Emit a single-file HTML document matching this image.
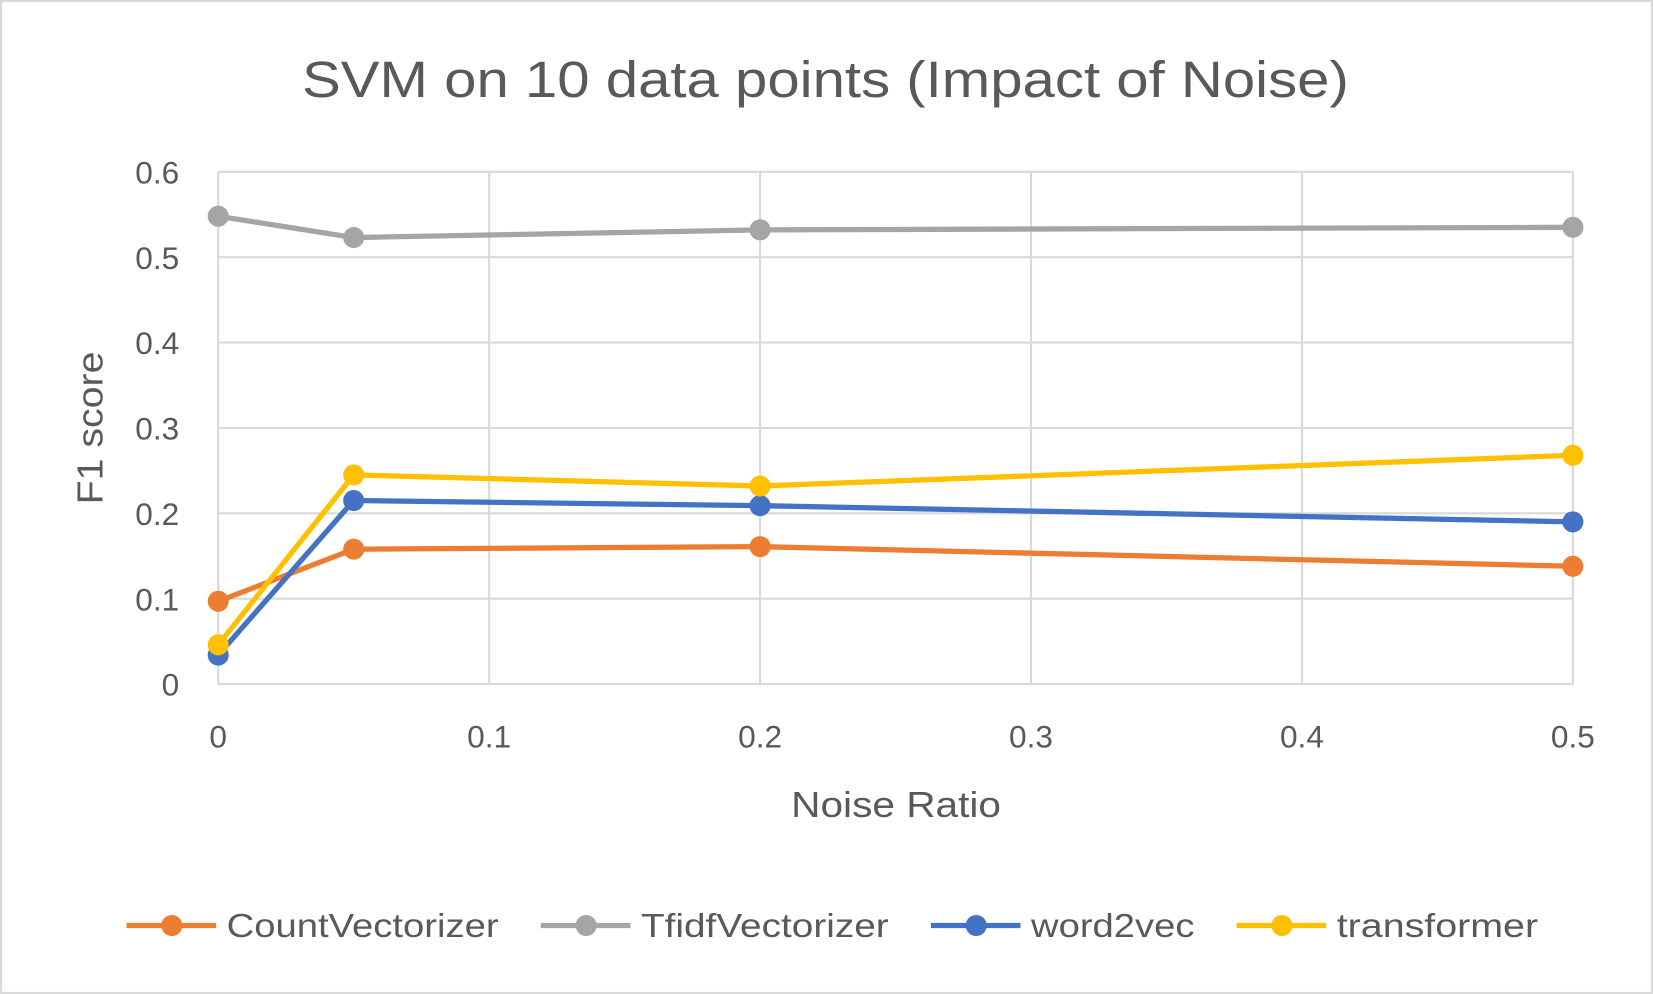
<!DOCTYPE html>
<html><head><meta charset="utf-8"><style>
html,body{margin:0;padding:0;background:#fff;}
svg{display:block;font-family:"Liberation Sans",Calibri,sans-serif;}
</style></head><body>
<svg width="1653" height="994" viewBox="0 0 1568 943" preserveAspectRatio="none">
<rect x="1" y="1" width="1566" height="941" fill="#fff" stroke="#d9d9d9" stroke-width="2"/>
<text x="783" y="92" text-anchor="middle" font-size="48" fill="#595959" textLength="993" lengthAdjust="spacingAndGlyphs">SVM on 10 data points (Impact of Noise)</text>
<g id="grid"></g>
<g id="axes"></g>
<g id="series"></g>
<text x="850" y="775" text-anchor="middle" font-size="34" fill="#595959" textLength="199" lengthAdjust="spacingAndGlyphs">Noise Ratio</text>
<text transform="translate(97,406) rotate(-90)" text-anchor="middle" font-size="34" fill="#595959" textLength="145" lengthAdjust="spacingAndGlyphs">F1 score</text>
<g id="legend"></g>
</svg>
<script>
const xValues=[0,0.05,0.2,0.5];
const seriesNames=["CountVectorizer","TfidfVectorizer","word2vec","transformer"];
const countVals=[0.097,0.158,0.161,0.138];
const tfidfVals=[0.548,0.523,0.532,0.535];
const w2vVals=[0.034,0.215,0.209,0.190];
const transVals=[0.046,0.245,0.232,0.268];
const yTicks=[0,0.1,0.2,0.3,0.4,0.5,0.6];
const yTickLabels=["0","0.1","0.2","0.3","0.4","0.5","0.6"];
const xTicks=[0,0.1,0.2,0.3,0.4,0.5];
const xTickLabels=["0","0.1","0.2","0.3","0.4","0.5"];
const colors=["#ed7d31","#a5a5a5","#4472c4","#ffc000"];
const NS="http://www.w3.org/2000/svg";
const X=v=>207+(v/0.5)*(1492-207);
const Y=v=>649-(v/0.6)*(649-163);
function mk(tag,attrs,parent){const e=document.createElementNS(NS,tag);for(const k in attrs)e.setAttribute(k,attrs[k]);parent.appendChild(e);return e;}
const grid=document.getElementById('grid'),axes=document.getElementById('axes'),ser=document.getElementById('series'),leg=document.getElementById('legend');
yTicks.forEach((t,i)=>{
  const l=mk('line',{x1:X(0),x2:X(0.5),y1:Y(t),y2:Y(t),stroke:'#d9d9d9','stroke-width':2},grid);
  
  
  const tx=mk('text',{x:170,y:Y(t)+11,'text-anchor':'end','font-size':30,fill:'#595959'},axes);
  tx.textContent=yTickLabels[i];
  
  
});
xTicks.forEach((t,i)=>{
  const l=mk('line',{x1:X(t),x2:X(t),y1:Y(0),y2:Y(0.6),stroke:'#d9d9d9','stroke-width':2},grid);
  
  
  const tx=mk('text',{x:X(t),y:709,'text-anchor':'middle','font-size':30,fill:'#595959'},axes);
  tx.textContent=xTickLabels[i];
  
  
});
const allVals=[countVals,tfidfVals,w2vVals,transVals];
allVals.forEach((vals,s)=>{
  const g=mk('g',{},ser);
  
  
  const pts=vals.map((v,i)=>X(xValues[i])+','+Y(v)).join(' ');
  const pl=mk('polyline',{points:pts,fill:'none',stroke:colors[s],'stroke-width':5,'stroke-linejoin':'round'},g);
  
  
  vals.forEach((v,i)=>{
    const c=mk('circle',{cx:X(xValues[i]),cy:Y(v),r:10,fill:colors[s]},g);
    
    
  });
});
const legX=[120,513,883,1173];
const legW=[258,235,155,191];
seriesNames.forEach((n,s)=>{
  const g=mk('g',{},leg);
  
  
  mk('line',{x1:legX[s],x2:legX[s]+85,y1:878,y2:878,stroke:colors[s],'stroke-width':5},g);
  mk('circle',{cx:legX[s]+43,cy:878,r:10,fill:colors[s]},g);
  const t=mk('text',{x:legX[s]+95,y:889,'font-size':32,fill:'#595959',textLength:legW[s],lengthAdjust:'spacingAndGlyphs'},g);
  t.textContent=n;
});
</script>
</body></html>
